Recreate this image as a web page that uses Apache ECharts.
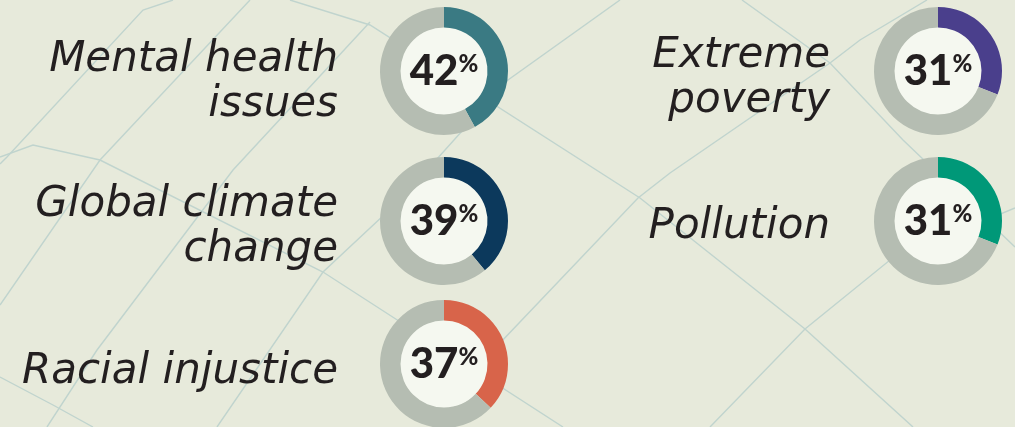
<!DOCTYPE html>
<html>
<head>
<meta charset="utf-8">
<script src="https://cdn.jsdelivr.net/npm/echarts@6/dist/echarts.min.js"></script>
<style>
html,body{margin:0;padding:0;background:#e7eadb;}
#chart{width:1015px;height:427px;}
</style>
</head>
<body>
<div id="chart"></div>
<script>
// ---- data ----
const categories = ['Mental health\nissues', 'Global climate\nchange', 'Racial injustice', 'Extreme\npoverty', 'Pollution'];
const values = [42, 39, 37, 31, 31];
const seriesColors = ['#3a7a83', '#0c395c', '#d8644a', '#4a3f8c', '#009878'];

// ---- layout (not data) ----
const donutCenters = [[444, 71], [444, 221], [444, 364], [938, 71], [938, 221]];
const labelAnchors = [[338, 83], [338, 228], [338, 372], [830, 79], [830, 227]];
const TRACK = '#b5bdb2';
const FILL = '#f5f8f0';
const INK = '#231f20';

// decorative background network lines
const bgLines = [
  [[173,0],[143,10],[7,157],[0,164]],
  [[250,0],[100,160],[0,305]],
  [[0,157],[33,145],[100,160],[323,272],[563,427]],
  [[290,0],[370,25],[640,198],[805,329],[913,427]],
  [[370,22],[233,170],[97,350],[47,427]],
  [[620,0],[508,80],[400,200],[323,272],[217,427]],
  [[0,377],[53,405],[93,427]],
  [[927,0],[860,40],[830,63],[670,173],[638,198],[500,343],[440,427]],
  [[742,0],[830,63],[903,140],[1015,247]],
  [[1015,208],[890,260],[805,329],[710,427]]
];

const chart = echarts.init(document.getElementById('chart'), null, {renderer: 'canvas'});

const series = [];
values.forEach((v, i) => {
  series.push({
    type: 'pie',
    silent: true,
    radius: [0, 44],
    center: donutCenters[i],
    z: 1,
    label: {show: false},
    labelLine: {show: false},
    data: [{value: 1, itemStyle: {color: FILL}}]
  });
  series.push({
    type: 'pie',
    silent: true,
    radius: [43.5, 64],
    center: donutCenters[i],
    startAngle: 90,
    clockwise: true,
    z: 2,
    avoidLabelOverlap: false,
    labelLine: {show: false},
    label: {
      show: true,
      position: 'center',
      formatter: '{n|' + v + '}{p|%}',
      rich: {
        n: {fontFamily: 'Lato', fontWeight: 900, fontSize: 42, lineHeight: 40, color: INK},
        p: {fontFamily: 'Lato', fontWeight: 900, fontSize: 24, lineHeight: 24, verticalAlign: 'top', color: INK, padding: [1, 0, 0, 0]}
      }
    },
    data: [
      {value: v, itemStyle: {color: seriesColors[i]}},
      {value: 100 - v, itemStyle: {color: TRACK}, label: {show: false}}
    ]
  });
});

const graphics = [];
bgLines.forEach(pts => {
  graphics.push({
    type: 'polyline',
    z: -10,
    silent: true,
    shape: {points: pts},
    style: {stroke: '#c0d4ce', lineWidth: 1.4, fill: null}
  });
});
categories.forEach((c, i) => {
  graphics.push({
    type: 'text',
    z: 5,
    silent: true,
    x: labelAnchors[i][0],
    y: labelAnchors[i][1],
    style: {
      text: c,
      align: 'right',
      verticalAlign: 'middle',
      fontFamily: 'DejaVu Sans',
      fontStyle: 'italic',
      fontWeight: 'normal',
      fontSize: 42,
      lineHeight: 45,
      fill: INK
    }
  });
});

chart.setOption({
  backgroundColor: '#e7eadb',
  animation: false,
  graphic: graphics,
  series: series
});
</script>
</body>
</html>
